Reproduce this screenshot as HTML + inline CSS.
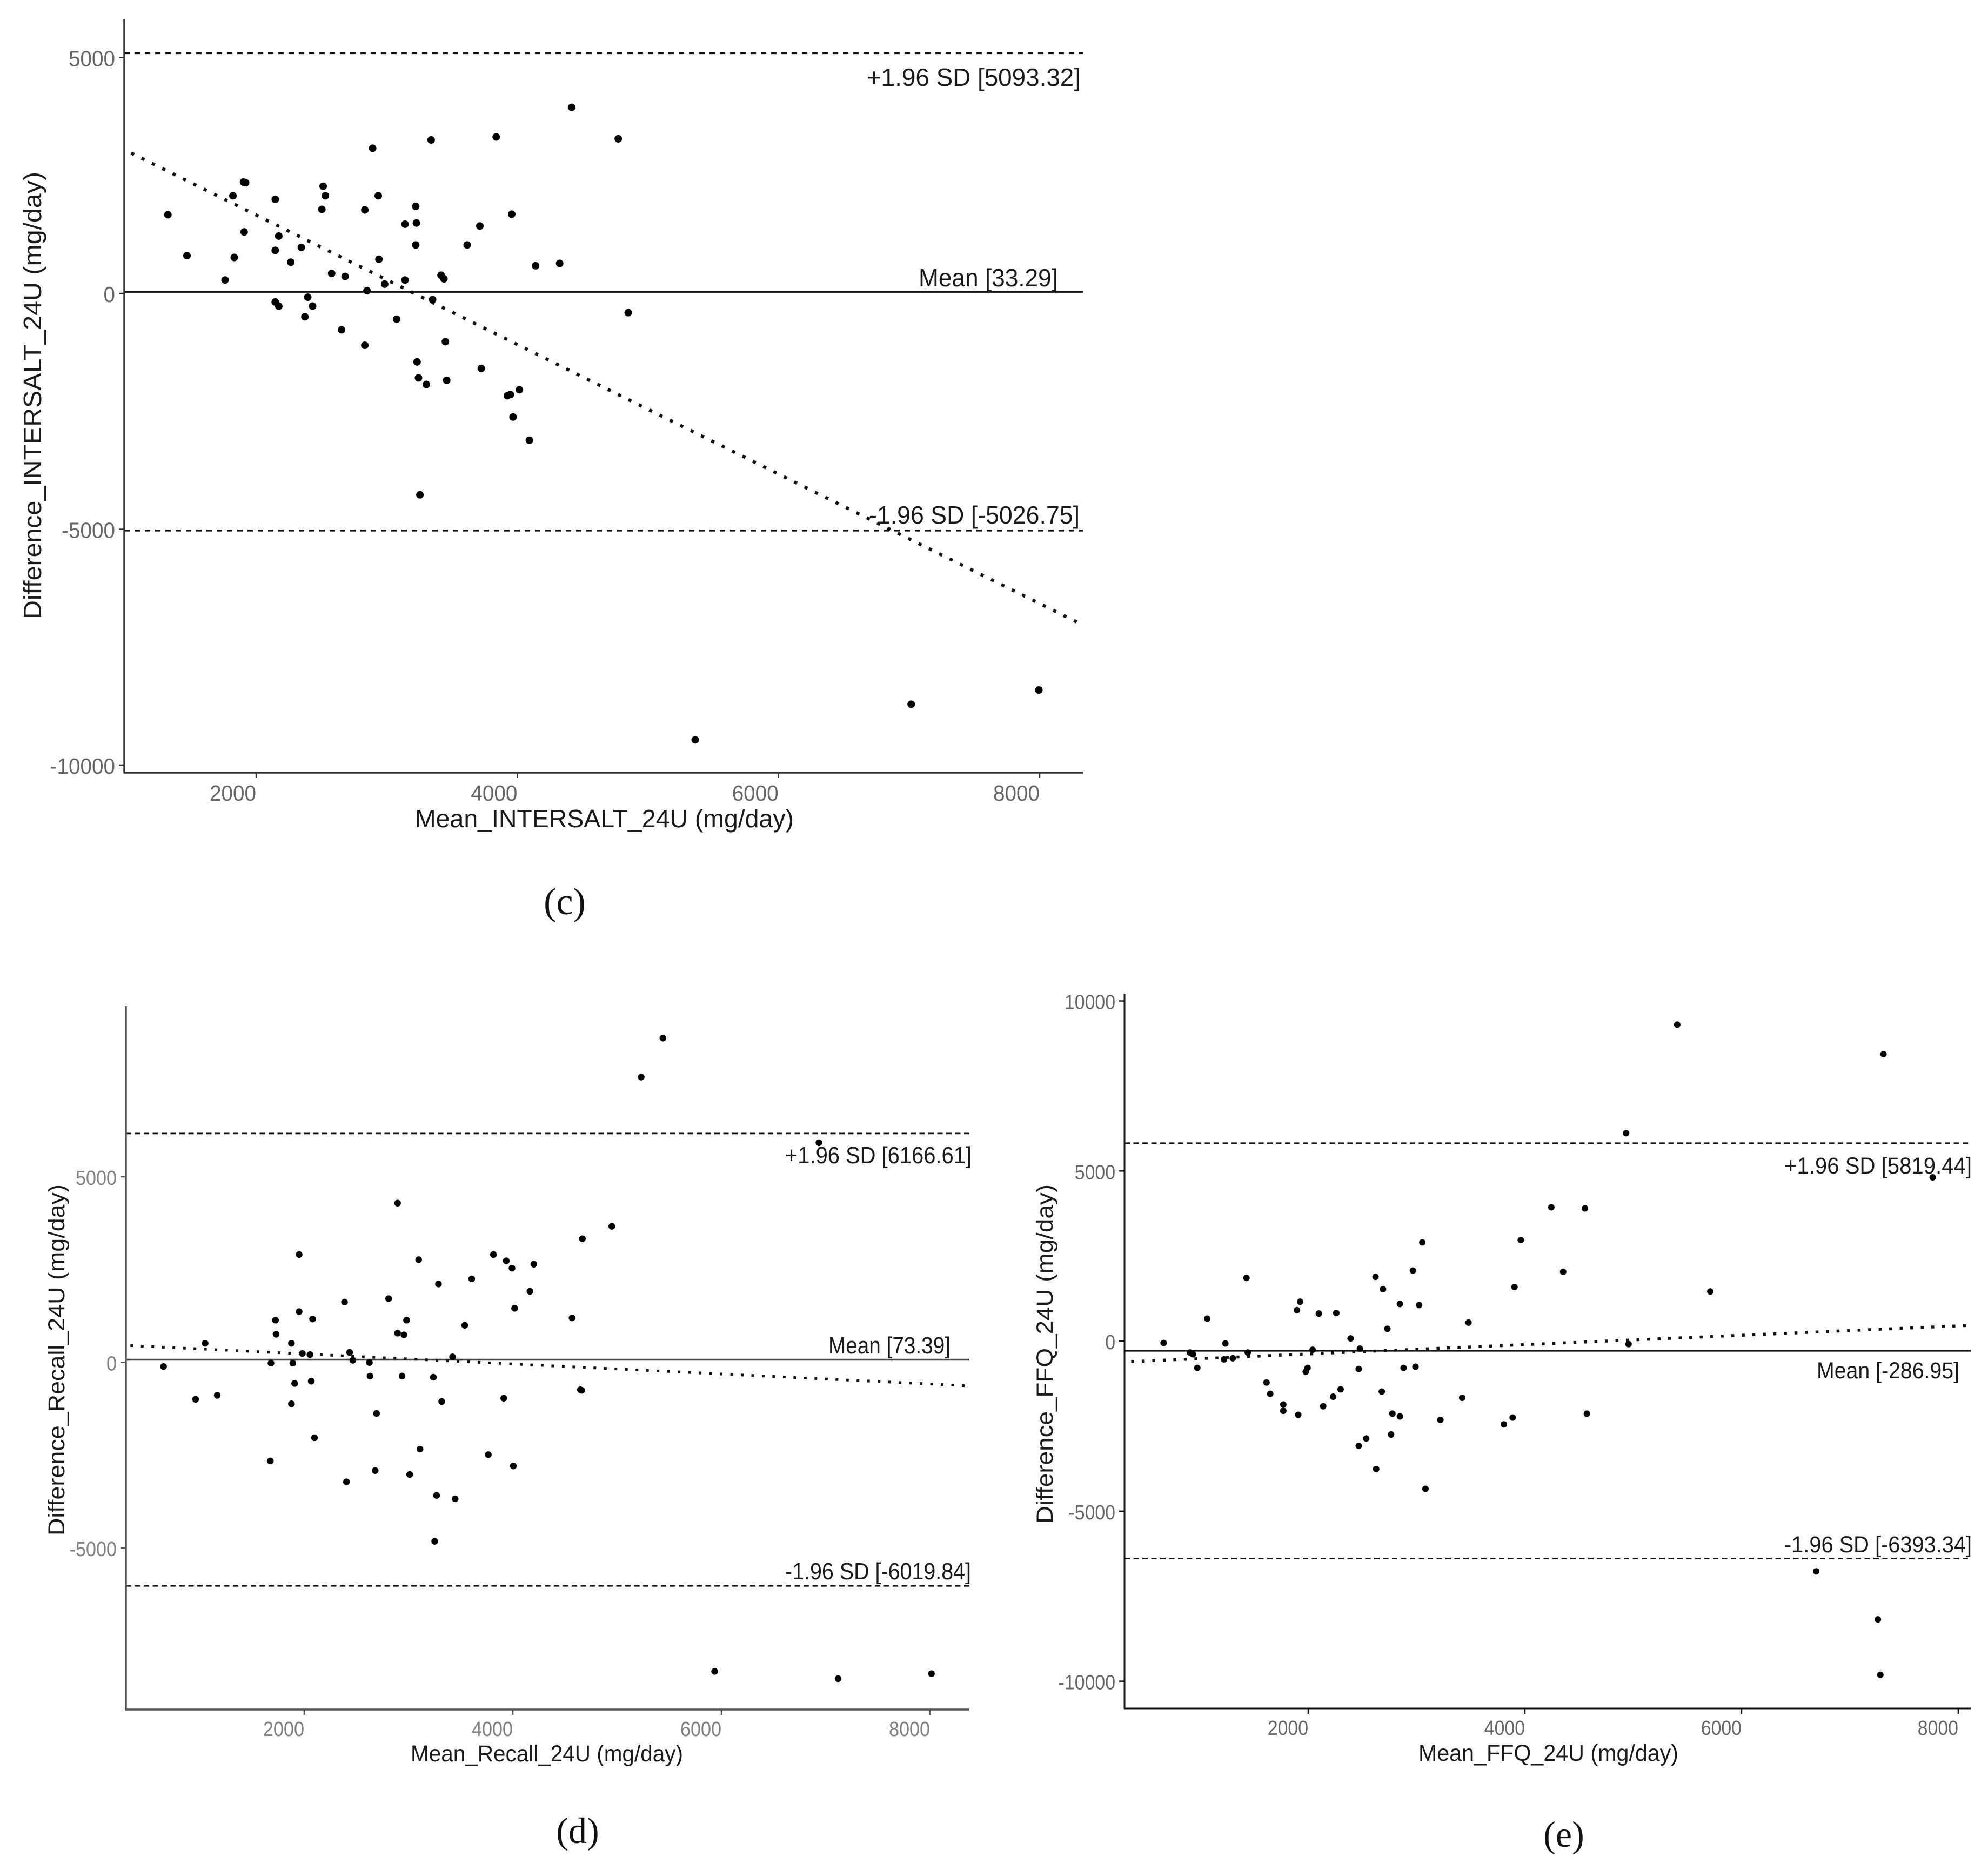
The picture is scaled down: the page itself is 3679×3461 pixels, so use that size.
<!DOCTYPE html>
<html lang="en">
<head>
<meta charset="utf-8">
<title>Bland-Altman plots (c), (d), (e)</title>
<style>
html,body{margin:0;padding:0;background:#fff;}
svg{display:block;}
text{font-family:"Liberation Sans",Arial,sans-serif;fill:#1a1a1a;}
.cap{font-family:"Liberation Serif","Times New Roman",serif;fill:#111;text-anchor:middle;}
</style>
</head>
<body>
<svg id="fig" xmlns="http://www.w3.org/2000/svg" width="3679" height="3461" viewBox="0 0 3679 3461">
  <rect width="3679" height="3461" fill="#fff"/>
  <g id="panel-c"></g>
  <g id="panel-d"></g>
  <g id="panel-e"></g>

  <text x="768" y="1531" font-size="46" textLength="701" lengthAdjust="spacingAndGlyphs">Mean_INTERSALT_24U (mg/day)</text>
  <text transform="translate(76,1146) rotate(-90)" font-size="46" textLength="828" lengthAdjust="spacingAndGlyphs">Difference_INTERSALT_24U (mg/day)</text>
  <text x="1604" y="159" font-size="46" textLength="396" lengthAdjust="spacingAndGlyphs">+1.96 SD [5093.32]</text>
  <text x="1700" y="530" font-size="46" textLength="258" lengthAdjust="spacingAndGlyphs">Mean [33.29]</text>
  <text x="1608" y="969" font-size="46" textLength="390" lengthAdjust="spacingAndGlyphs">-1.96 SD [-5026.75]</text>
  <text class="cap" x="1045" y="1692" font-size="70">(c)</text>

  <text x="760" y="3260" font-size="43" textLength="504" lengthAdjust="spacingAndGlyphs">Mean_Recall_24U (mg/day)</text>
  <text transform="translate(119,2842) rotate(-90)" font-size="43" textLength="650" lengthAdjust="spacingAndGlyphs">Difference_Recall_24U (mg/day)</text>
  <text x="1453" y="2153" font-size="44" textLength="345" lengthAdjust="spacingAndGlyphs">+1.96 SD [6166.61]</text>
  <text x="1533" y="2505" font-size="44" textLength="226" lengthAdjust="spacingAndGlyphs">Mean [73.39]</text>
  <text x="1453" y="2923" font-size="44" textLength="344" lengthAdjust="spacingAndGlyphs">-1.96 SD [-6019.84]</text>
  <text class="cap" x="1069" y="3411" font-size="68">(d)</text>

  <text x="2625" y="3259" font-size="43" textLength="481" lengthAdjust="spacingAndGlyphs">Mean_FFQ_24U (mg/day)</text>
  <text transform="translate(1948,2820) rotate(-90)" font-size="43" textLength="628" lengthAdjust="spacingAndGlyphs">Difference_FFQ_24U (mg/day)</text>
  <text x="3302" y="2172" font-size="43" textLength="347" lengthAdjust="spacingAndGlyphs">+1.96 SD [5819.44]</text>
  <text x="3362" y="2551" font-size="43" textLength="264" lengthAdjust="spacingAndGlyphs">Mean [-286.95]</text>
  <text x="3302" y="2873" font-size="43" textLength="347" lengthAdjust="spacingAndGlyphs">-1.96 SD [-6393.34]</text>
  <text class="cap" x="2894" y="3418" font-size="68">(e)</text>
</svg>
<script>
// ---- Panel (c) data ----
const cXTicks = [2000, 4000, 6000, 8000];
const cYTicks = [5000, 0, -5000, -10000];
const cLimits = [5093.32, 33.29, -5026.75];
const cTrendX = [1043, 8331];
const cTrendY = [2976, -7030];
const cMeans = [1324,1470,1762,1822,1832,1903,1919,1908,2146,2146,2173,2146,2173,2265,2346,2373,2395,2432,2503,2513,2530,2578,2654,2681,2832,2832,2849,2892,2935,2940,2984,3076,3140,3140,3222,3227,3222,3232,3243,3254,3303,3340,3351,3416,3438,3449,3459,3616,3713,3724,3838,3924,3946,3957,3967,4016,4092,4140,4324,4416,4773,4849,5362,7016,7994];
const cDiffs = [1668,800,284,2070,762,2360,2347,1303,1995,913,1215,-181,-269,662,976,-496,-81,-269,1781,2272,2070,423,-772,360,1769,-1100,58,3077,2070,725,196,-546,1467,284,1844,1492,1027,-1452,-1791,-4270,-1930,3253,-131,385,309,-1024,-1842,1027,1429,-1590,3316,-2169,-2144,1680,-2621,-2043,-3112,586,636,3945,3278,-408,-9465,-8710,-8408];

// ---- Panel (d) data ----
const dXTicks = [2000, 4000, 6000, 8000];
const dYTicks = [5000, 0, -5000];
const dLimits = [6166.61, 73.39, -6019.84];
const dTrendX = [333, 8338];
const dTrendY = [454, -627];
const dMeans = [651,958,1050,1166,1675,1681,1724,1730,1877,1877,1890,1908,1951,1951,1982,2055,2067,2080,2098,2386,2405,2435,2466,2625,2631,2680,2693,2809,2895,2895,2938,2956,2981,3011,3097,3110,3238,3251,3269,3287,3318,3422,3447,3539,3606,3765,3814,3913,3937,3992,4005,4017,4164,4201,4568,4648,4660,4667,4949,5231,5439,5935,6935,7119,8014];
const dDiffs = [-110,-993,515,-886,-2653,-18,1139,758,515,-1115,-18,-566,2906,1368,241,210,-505,1170,-2029,1626,-3216,271,58,-3,-368,-2913,-1374,1718,4292,789,-368,743,1139,-3019,2769,-2335,-399,-4819,-3582,2114,-1054,149,-3673,1002,2251,-2485,2906,-963,2738,2540,-2790,1459,1916,2647,1200,-736,-752,3332,3667,7686,8737,-8322,5919,-8520,-8383];

// ---- Panel (e) data ----
const eXTicks = [2000, 4000, 6000, 8000];
const eYTicks = [10000, 5000, 0, -5000, -10000];
const eLimits = [5819.44, -286.95, -6393.34];
const eTrendX = [366, 8092];
const eTrendY = [-603, 460];
const eMeans = [665,907,936,976,1068,1223,1235,1304,1430,1442,1615,1649,1770,1770,1896,1908,1925,1977,1994,2040,2098,2138,2230,2259,2299,2391,2466,2466,2477,2535,2621,2627,2679,2690,2731,2765,2777,2846,2846,2880,2966,2990,3024,3053,3082,3220,3421,3479,3806,3887,3904,3962,4244,4353,4554,4572,4934,4957,5406,5711,6689,7258,7281,7310,7764];
const eDiffs = [-55,-337,-387,-786,660,-537,-71,-504,1856,-337,-1218,-1551,-1866,-2049,909,-2166,1158,-902,-786,-254,809,-1916,-1634,826,-1418,78,-3080,-819,-221,-2864,1890,-3761,-1484,1524,361,-2747,-2133,1092,-2214,-786,2072,-753,1059,2903,-4343,-2315,-1667,543,-2448,-2248,1590,2970,3933,2039,3901,-2133,6111,-88,9303,1458,-6769,-8182,-9811,8437,4814];

const NS = 'http://www.w3.org/2000/svg';

function mk(parent, tag, attrs) {
  const el = document.createElementNS(NS, tag);
  for (const k in attrs) el.setAttribute(k, attrs[k]);
  parent.appendChild(el);
  return el;
}

function drawPanel(id, frame, style, xTicks, yTicks, limits, trendX, trendY, means, diffs) {
  const root = document.getElementById(id);
  const xAxis = v => frame.left + (v - frame.xMin) / (frame.xMax - frame.xMin) * (frame.right - frame.left);
  const yAxis = v => frame.bottom - (v - frame.yMin) / (frame.yMax - frame.yMin) * (frame.bottom - frame.top);

  // reference lines
  limits.forEach((v, i) => {
    const isMean = i === 1;
    const line = mk(root, 'line', {
      x1: frame.left, x2: frame.right, y1: yAxis(v), y2: yAxis(v),
      stroke: isMean ? style.meanColor : '#111', 'stroke-width': isMean ? style.meanWidth : style.limitWidth,
      'stroke-dasharray': isMean ? 'none' : style.dash
    });
    
    
  });

  // regression trend
  const trend = mk(root, 'line', {
    x1: xAxis(trendX[0]), y1: yAxis(trendY[0]), x2: xAxis(trendX[1]), y2: yAxis(trendY[1]),
    stroke: '#111', 'stroke-width': style.trendWidth, 'stroke-dasharray': style.dots
  });
  
  

  // axes
  const yLine = mk(root, 'line', { x1: frame.left, x2: frame.left, y1: frame.top, y2: frame.bottom + 1, stroke: style.axis, 'stroke-width': style.axisWidth });
  
  
  const xLine = mk(root, 'line', { x1: frame.left - 1, x2: frame.right, y1: frame.bottom, y2: frame.bottom, stroke: style.axis, 'stroke-width': style.axisWidth });
  
  

  // x ticks
  xTicks.forEach(v => {
    const tick = mk(root, 'line', { x1: xAxis(v), x2: xAxis(v), y1: frame.bottom, y2: frame.bottom + 10, stroke: style.axis, 'stroke-width': 2.5 });
    
    
    const label = mk(root, 'text', {
      x: xAxis(v), y: frame.bottom + style.xLabelDrop, 'text-anchor': 'end', 'font-size': style.tickFont,
      textLength: style.digit * String(v).length, lengthAdjust: 'spacingAndGlyphs'
    });
    label.style.fill = style.tickColor;
    label.textContent = String(v);
    
    
  });

  // y ticks
  yTicks.forEach(v => {
    const tick = mk(root, 'line', { x1: frame.left - 10, x2: frame.left, y1: yAxis(v), y2: yAxis(v), stroke: style.axis, 'stroke-width': 2.5 });
    
    
    const str = String(v);
    const len = style.digit * str.replace('-', '').length + (v < 0 ? style.digit * 0.6 : 0);
    const label = mk(root, 'text', {
      x: frame.left - 17, y: yAxis(v) + style.yLabelDrop, 'text-anchor': 'end', 'font-size': style.tickFont,
      textLength: len, lengthAdjust: 'spacingAndGlyphs'
    });
    label.style.fill = style.tickColor;
    label.textContent = str;
    
    
  });

  // points
  means.forEach((m, i) => {
    const pt = mk(root, 'circle', { cx: xAxis(m), cy: yAxis(diffs[i]), r: style.r, fill: '#000' });
    
    
  });
}

drawPanel('panel-c',
  { left: 230, right: 2004, top: 36, bottom: 1430, xMin: 990, xMax: 8331, yMin: -10160, yMax: 5808 },
  { meanColor: '#111', meanWidth: 3.5, limitWidth: 3.5, trendWidth: 6, dash: '10 9', dots: '6 15.4', axis: '#333', axisWidth: 3.5, tickFont: 41, digit: 21.5, tickColor: '#666', xLabelDrop: 52, yLabelDrop: 16, r: 7 },
  cXTicks, cYTicks, cLimits, cTrendX, cTrendY, cMeans, cDiffs);

drawPanel('panel-d',
  { left: 233, right: 1794, top: 1862, bottom: 3164, xMin: 290, xMax: 8378, yMin: -9350, yMax: 9600 },
  { meanColor: '#444', meanWidth: 3.5, limitWidth: 2.8, trendWidth: 5, dash: '10 6.5', dots: '5 14.5', axis: '#555', axisWidth: 3.5, tickFont: 38, digit: 19, tickColor: '#808080', xLabelDrop: 49, yLabelDrop: 15, r: 6.2 },
  dXTicks, dYTicks, dLimits, dTrendX, dTrendY, dMeans, dDiffs);

drawPanel('panel-e',
  { left: 2081, right: 3647, top: 1839, bottom: 3162, xMin: 304, xMax: 8115, yMin: -10800, yMax: 10215 },
  { meanColor: '#111', meanWidth: 3, limitWidth: 2.6, trendWidth: 5.5, dash: '10 6.5', dots: '5.5 14', axis: '#111', axisWidth: 3, tickFont: 38, digit: 18.8, tickColor: '#666', xLabelDrop: 49, yLabelDrop: 15, r: 6 },
  eXTicks, eYTicks, eLimits, eTrendX, eTrendY, eMeans, eDiffs);
</script>
</body>
</html>
